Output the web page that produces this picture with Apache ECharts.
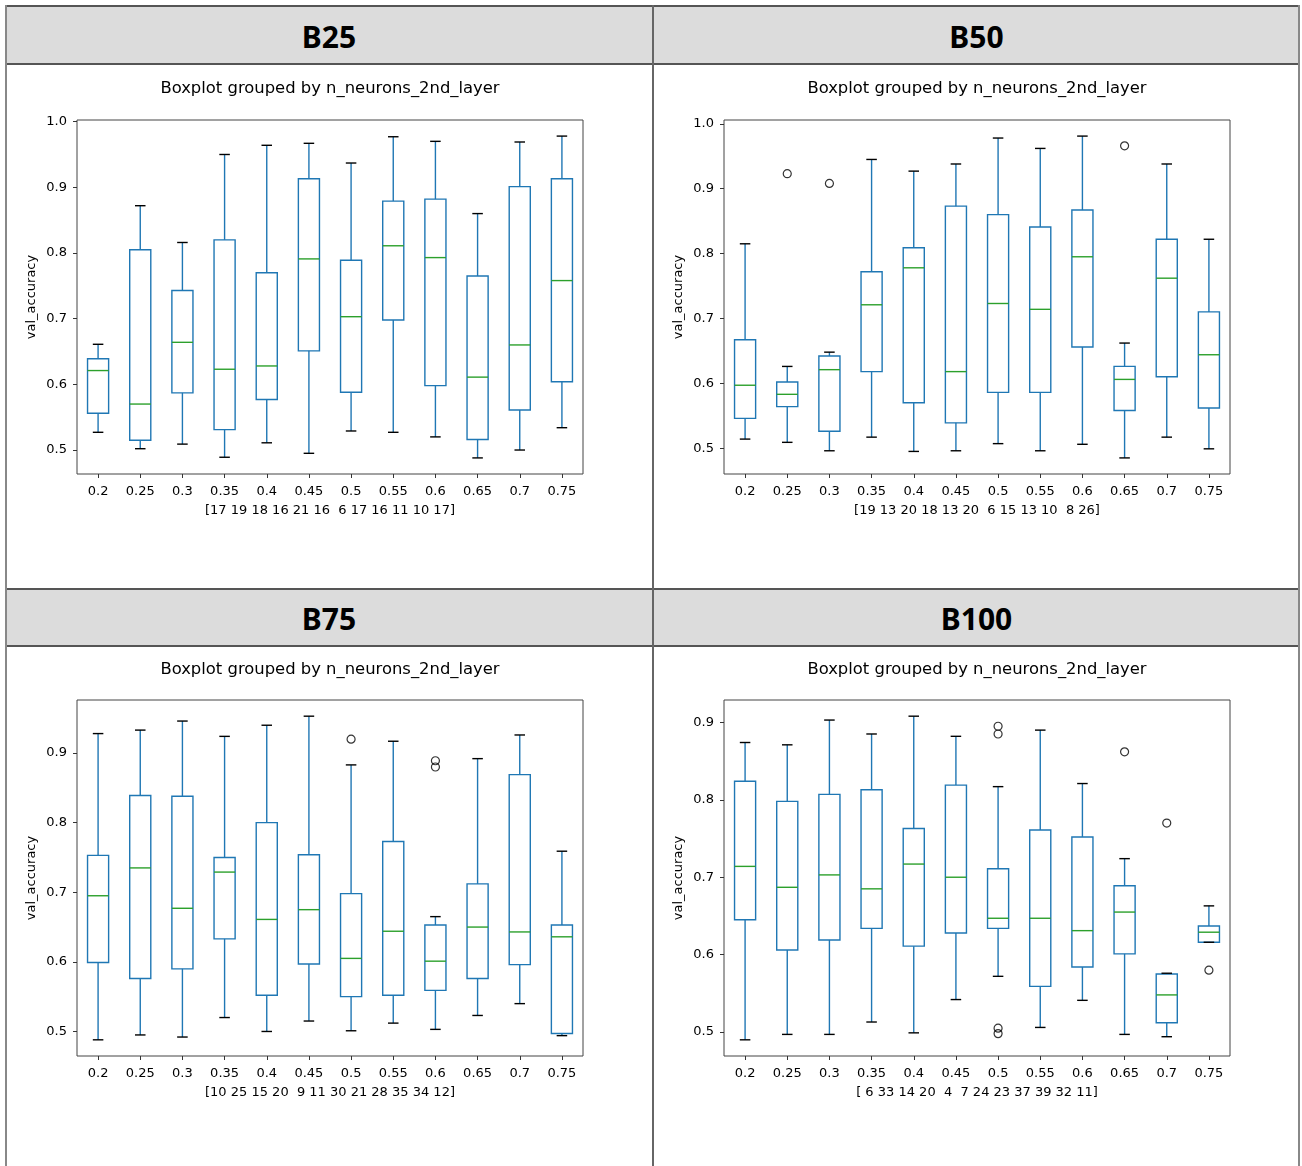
<!DOCTYPE html>
<html><head><meta charset="utf-8">
<script src="https://cdn.jsdelivr.net/npm/echarts@6/dist/echarts.min.js"></script>
<style>
html,body{margin:0;padding:0;background:#fff;width:1302px;height:1166px;overflow:hidden;}
.hdr{position:absolute;background:#dcdcdc;border-top:2px solid #555;border-bottom:2px solid #555;font:bold 30px "Noto Sans",sans-serif;color:#000;display:flex;align-items:center;justify-content:center;box-sizing:border-box;padding-top:2px;}
.vl{position:absolute;width:2px;background:#888;top:5px;height:1161px;}
#chart{position:absolute;left:0;top:0;width:1302px;height:1166px;}
</style></head>
<body>
<div class="hdr" style="left:5px;top:5px;width:648px;height:60px">B25</div>
<div class="hdr" style="left:653px;top:5px;width:647px;height:60px">B50</div>
<div class="hdr" style="left:5px;top:588px;width:648px;height:59px">B75</div>
<div class="hdr" style="left:653px;top:588px;width:647px;height:59px">B100</div>
<div class="vl" style="left:5px"></div>
<div class="vl" style="left:652px;background:#666"></div>
<div class="vl" style="left:1298px"></div>
<div id="chart"></div>
<script>
// ---- data ----
const categories = ['0.2','0.25','0.3','0.35','0.4','0.45','0.5','0.55','0.6','0.65','0.7','0.75'];
const titleText = 'Boxplot grouped by n_neurons_2nd_layer';
const yName = 'val_accuracy';

// B25
const b25Low  = [0.527,0.502,0.509,0.489,0.511,0.495,0.529,0.527,0.520,0.488,0.500,0.534];
const b25Q1   = [0.556,0.515,0.587,0.531,0.577,0.651,0.588,0.698,0.598,0.516,0.561,0.604];
const b25Med  = [0.621,0.570,0.664,0.623,0.628,0.791,0.703,0.811,0.793,0.611,0.660,0.758];
const b25Q3   = [0.639,0.805,0.743,0.820,0.770,0.913,0.789,0.879,0.882,0.765,0.901,0.913];
const b25High = [0.661,0.872,0.816,0.950,0.964,0.967,0.937,0.977,0.970,0.860,0.969,0.978];
const b25Fliers = [];
const b25Counts = [17,19,18,16,21,16,6,17,16,11,10,17];
const b25Ticks = [0.5,0.6,0.7,0.8,0.9,1.0];

// B50
const b50Low  = [0.514,0.509,0.496,0.517,0.495,0.496,0.507,0.496,0.506,0.485,0.517,0.499];
const b50Q1   = [0.546,0.564,0.526,0.618,0.570,0.539,0.586,0.586,0.656,0.558,0.610,0.562];
const b50Med  = [0.597,0.583,0.621,0.721,0.778,0.618,0.723,0.714,0.795,0.606,0.762,0.644];
const b50Q3   = [0.667,0.602,0.642,0.772,0.809,0.873,0.860,0.841,0.867,0.626,0.822,0.710];
const b50High = [0.815,0.626,0.648,0.945,0.927,0.938,0.978,0.962,0.981,0.662,0.938,0.822];
const b50Fliers = [[1,0.923],[2,0.908],[9,0.966]];
const b50Counts = [19,13,20,18,13,20,6,15,13,10,8,26];
const b50Ticks = [0.5,0.6,0.7,0.8,0.9,1.0];

// B75
const b75Low  = [0.488,0.495,0.492,0.520,0.500,0.515,0.501,0.512,0.503,0.523,0.540,0.494];
const b75Q1   = [0.599,0.576,0.590,0.633,0.552,0.597,0.550,0.552,0.559,0.576,0.596,0.497];
const b75Med  = [0.695,0.735,0.677,0.729,0.661,0.675,0.605,0.644,0.601,0.650,0.643,0.636];
const b75Q3   = [0.753,0.839,0.838,0.750,0.800,0.754,0.698,0.773,0.653,0.712,0.869,0.653];
const b75High = [0.928,0.933,0.946,0.924,0.940,0.953,0.883,0.917,0.665,0.892,0.926,0.759];
const b75Fliers = [[6,0.920],[8,0.889],[8,0.880]];
const b75Counts = [10,25,15,20,9,11,30,21,28,35,34,12];
const b75Ticks = [0.5,0.6,0.7,0.8,0.9];

// B100
const b100Low  = [0.490,0.497,0.497,0.513,0.499,0.542,0.572,0.506,0.541,0.497,0.494,0.616];
const b100Q1   = [0.645,0.606,0.619,0.634,0.611,0.628,0.634,0.559,0.584,0.601,0.512,0.616];
const b100Med  = [0.714,0.687,0.703,0.685,0.717,0.700,0.647,0.647,0.631,0.655,0.548,0.629];
const b100Q3   = [0.824,0.798,0.807,0.813,0.763,0.819,0.711,0.761,0.752,0.689,0.575,0.637];
const b100High = [0.874,0.871,0.903,0.885,0.908,0.882,0.817,0.890,0.821,0.724,0.576,0.663];
const b100Fliers = [[6,0.895],[6,0.885],[6,0.505],[6,0.498],[9,0.862],[10,0.770],[11,0.580]];
const b100Counts = [6,33,14,20,4,7,24,23,37,39,32,11];
const b100Ticks = [0.5,0.6,0.7,0.8,0.9];

// ---- layout ----
const panels = [
  {low:b25Low,q1:b25Q1,med:b25Med,q3:b25Q3,high:b25High,fliers:b25Fliers,counts:b25Counts,ticks:b25Ticks,grid:{left:77,top:120,width:506,height:354},titleY:89},
  {low:b50Low,q1:b50Q1,med:b50Med,q3:b50Q3,high:b50High,fliers:b50Fliers,counts:b50Counts,ticks:b50Ticks,grid:{left:724,top:120,width:506,height:354},titleY:89},
  {low:b75Low,q1:b75Q1,med:b75Med,q3:b75Q3,high:b75High,fliers:b75Fliers,counts:b75Counts,ticks:b75Ticks,grid:{left:77,top:700,width:506,height:356},titleY:670},
  {low:b100Low,q1:b100Q1,med:b100Med,q3:b100Q3,high:b100High,fliers:b100Fliers,counts:b100Counts,ticks:b100Ticks,grid:{left:724,top:700,width:506,height:356},titleY:670}
];

const BLUE = '#1f77b4', GREEN = '#2ca02c', FONT = '"DejaVu Sans", sans-serif';

function renderBox(params, api) {
  const i = api.value(0);
  const pLow = api.coord([i, api.value(1)]);
  const pQ1 = api.coord([i, api.value(2)]);
  const pMed = api.coord([i, api.value(3)]);
  const pQ3 = api.coord([i, api.value(4)]);
  const pHigh = api.coord([i, api.value(5)]);
  const bw = api.size([1, 0])[0] * 0.5;
  const cx = pLow[0];
  const lw = 1.4;
  const line = (x1,y1,x2,y2,c) => ({type:'line', shape:{x1,y1,x2,y2}, style:{stroke:c, lineWidth:lw}});
  return {type:'group', children:[
    line(cx, pHigh[1], cx, pQ3[1], BLUE),
    line(cx, pQ1[1], cx, pLow[1], BLUE),
    {type:'rect', shape:{x:cx-bw/2, y:pQ3[1], width:bw, height:pQ1[1]-pQ3[1]}, style:{fill:'none', stroke:BLUE, lineWidth:lw}},
    line(cx-bw/2, pMed[1], cx+bw/2, pMed[1], GREEN),
    line(cx-bw/4, pHigh[1], cx+bw/4, pHigh[1], '#000'),
    line(cx-bw/4, pLow[1], cx+bw/4, pLow[1], '#000')
  ]};
}

const grids = [], xAxes = [], yAxes = [], series = [], graphics = [];
panels.forEach((p, k) => {
  grids.push(Object.assign({show:true, borderColor:'#444', borderWidth:1, backgroundColor:'transparent'}, p.grid));
  let all = p.low.concat(p.high, p.fliers.map(f => f[1]));
  const dmin = Math.min(...all), dmax = Math.max(...all), m = (dmax - dmin) * 0.05;
  xAxes.push({
    type:'category', gridIndex:k, data:categories,
    name: '[' + p.counts.map(c => String(c).padStart(2,' ')).join(' ') + ']',
    nameLocation:'middle', nameGap:30,
    nameTextStyle:{fontFamily:FONT, fontSize:13, color:'#000'},
    axisLine:{show:false},
    axisTick:{show:true, alignWithLabel:true, length:4, lineStyle:{color:'#333'}},
    axisLabel:{fontFamily:FONT, fontSize:13, color:'#000', margin:11},
    splitLine:{show:false}
  });
  yAxes.push({
    type:'value', gridIndex:k, min:dmin - m, max:dmax + m,
    name:yName, nameLocation:'middle', nameGap:39,
    nameTextStyle:{fontFamily:FONT, fontSize:13, color:'#000'},
    axisLine:{show:false},
    axisTick:{show:true, length:4, lineStyle:{color:'#333'}, customValues:p.ticks},
    axisLabel:{fontFamily:FONT, fontSize:13, color:'#000', margin:10, customValues:p.ticks, formatter:v => v.toFixed(1)},
    splitLine:{show:false}
  });
  series.push({
    type:'custom', xAxisIndex:k, yAxisIndex:k, renderItem:renderBox,
    encode:{x:0, y:[1,2,3,4,5]},
    data: categories.map((c, i) => [i, p.low[i], p.q1[i], p.med[i], p.q3[i], p.high[i]]),
    silent:true, animation:false
  });
  series.push({
    type:'scatter', xAxisIndex:k, yAxisIndex:k, symbol:'circle', symbolSize:8,
    itemStyle:{color:'rgba(0,0,0,0)', borderColor:'#000', borderWidth:1.2},
    data:p.fliers, silent:true, animation:false
  });
  graphics.push({
    type:'text', x:p.grid.left + p.grid.width/2, y:p.titleY,
    style:{text:titleText, font:'16.4px ' + FONT, fill:'#000', textAlign:'center', textVerticalAlign:'middle', align:'center', verticalAlign:'middle'}
  });
});

const chart = echarts.init(document.getElementById('chart'), null, {renderer:'canvas'});
chart.setOption({
  animation:false,
  grid:grids, xAxis:xAxes, yAxis:yAxes, series:series, graphic:graphics
});
</script>
</body></html>
